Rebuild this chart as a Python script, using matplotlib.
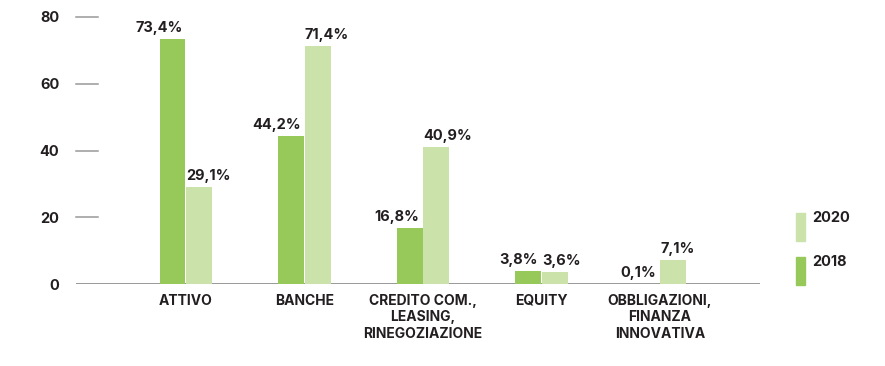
import matplotlib.pyplot as plt
from matplotlib.patches import Rectangle
from matplotlib.transforms import offset_copy
import numpy as np

plt.rcParams['font.family'] = ['Inter', 'DejaVu Sans']
plt.rcParams['font.weight'] = 'bold'

# Dati
categorie = ["ATTIVO", "BANCHE", "CREDITO COM.,\nLEASING,\nRINEGOZIAZIONE",
             "EQUITY", "OBBLIGAZIONI,\nFINANZA\nINNOVATIVA"]
valori_2018 = [73.4, 44.2, 16.8, 3.8, 0.1]
valori_2020 = [29.1, 71.4, 40.9, 3.6, 7.1]
etichette_2018 = ["73,4%", "44,2%", "16,8%", "3,8%", "0,1%"]
etichette_2020 = ["29,1%", "71,4%", "40,9%", "3,6%", "7,1%"]
yticks = [0, 20, 40, 60, 80]

verde = "#96c95a"
verde_chiaro = "#cbe3ab"
testo = "#231f20"
grigio = "#999999"

W, H = 885, 366
fig = plt.figure(figsize=(W / 100, H / 100), dpi=100)
ax = fig.add_axes([76 / W, 1 - 284 / H, (760 - 76) / W, (284 - 17) / H])

x = np.arange(len(categorie))
w = 0.219
gap = 0.004
b1 = ax.bar(x - w / 2 - gap, valori_2018, w, color=verde, zorder=3)
b2 = ax.bar(x + w / 2 + gap, valori_2020, w, color=verde_chiaro, zorder=3)

ax.set_xlim(-0.928, 4.844)
ax.set_ylim(0, 80)

# etichette dei valori
for i in range(len(categorie)):
    t1 = offset_copy(ax.transData, fig=fig, x=-3, y=4, units='dots')
    ax.text(x[i] - gap, valori_2018[i], etichette_2018[i], transform=t1,
            ha='right', va='bottom', fontsize=10.5, color=testo, fontweight='bold')
    t2 = offset_copy(ax.transData, fig=fig, x=0, y=4, units='dots')
    ax.text(x[i] + gap, valori_2020[i], etichette_2020[i], transform=t2,
            ha='left', va='bottom', fontsize=10.5, color=testo, fontweight='bold')

# assi
for s in ax.spines.values():
    s.set_visible(False)
ax.axhline(0, color=grigio, lw=1.4, zorder=2)
for yv in yticks[1:]:
    ax.plot([0, 22 / (760 - 76)], [yv, yv], color=grigio, lw=1.1,
            transform=ax.get_yaxis_transform(), clip_on=False)

ax.set_yticks(yticks)
ax.set_yticklabels([str(v) for v in yticks], fontsize=10.5, color=testo, fontweight='bold')
ax.tick_params(axis='y', length=0, pad=12)
ax.set_xticks(x)
ax.set_xticklabels(categorie, fontsize=10, color=testo, fontweight='bold', linespacing=1.25)
ax.tick_params(axis='x', length=0, pad=7)

# legenda
fig.patches.append(Rectangle((796 / W, 1 - 241 / H), 9 / W, 28 / H,
                             transform=fig.transFigure, color=verde_chiaro))
fig.patches.append(Rectangle((796 / W, 1 - 285 / H), 9 / W, 28 / H,
                             transform=fig.transFigure, color=verde))
fig.text(812 / W, 1 - 211 / H, "2020", ha='left', va='top', fontsize=10.5,
         color=testo, fontweight='bold')
fig.text(812 / W, 1 - 255 / H, "2018", ha='left', va='top', fontsize=10.5,
         color=testo, fontweight='bold')

fig.savefig("out.png", dpi=100)
